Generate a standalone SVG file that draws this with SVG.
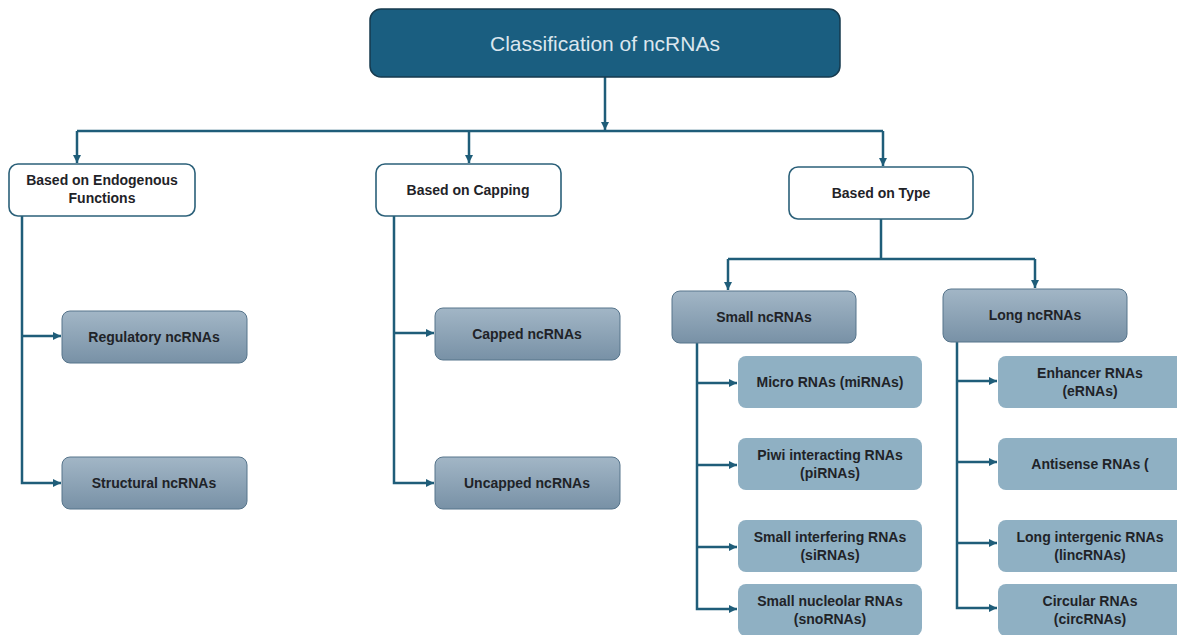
<svg xmlns="http://www.w3.org/2000/svg" width="1177" height="635" viewBox="0 0 1177 635">
<style>
.t{font-family:"Liberation Sans",Arial,sans-serif;font-weight:bold;font-size:14px;fill:#1f2328;text-anchor:middle}
.title{font-family:"Liberation Sans",Arial,sans-serif;font-size:21px;fill:#dbe6ee;text-anchor:middle}
.w{fill:#ffffff;stroke:#2b6079;stroke-width:1.6}
.g{fill:url(#grad);stroke:#56748b;stroke-width:1}
.l{fill:#8fb0c3}
.c{fill:none;stroke:#1f5d79;stroke-width:2.5}
</style>
<defs>
<linearGradient id="grad" x1="0" y1="0" x2="0" y2="1">
<stop offset="0" stop-color="#a2b6c6"/>
<stop offset="1" stop-color="#7891a6"/>
</linearGradient>
<marker id="ah" viewBox="0 0 10 10" refX="10" refY="5" markerWidth="8" markerHeight="8" markerUnits="userSpaceOnUse" orient="auto">
<path d="M0,0 L10,5 L0,10 z" fill="#1f5d79"/>
</marker>
</defs>
<g id="connectors">
<path class="c" d="M605,77 V130" marker-end="url(#ah)"/>
<path class="c" d="M77,131 H883"/>
<path class="c" d="M77,131 V163" marker-end="url(#ah)"/>
<path class="c" d="M469,131 V163" marker-end="url(#ah)"/>
<path class="c" d="M883,131 V166" marker-end="url(#ah)"/>
<path class="c" d="M22,216 V483 H61" marker-end="url(#ah)"/>
<path class="c" d="M22,336 H61" marker-end="url(#ah)"/>
<path class="c" d="M394,216 V483 H434" marker-end="url(#ah)"/>
<path class="c" d="M394,333 H434" marker-end="url(#ah)"/>
<path class="c" d="M881,219 V259"/>
<path class="c" d="M728,259 H1035"/>
<path class="c" d="M728,259 V290" marker-end="url(#ah)"/>
<path class="c" d="M1035,259 V288" marker-end="url(#ah)"/>
<path class="c" d="M697,343 V609 H737" marker-end="url(#ah)"/>
<path class="c" d="M697,383 H737" marker-end="url(#ah)"/>
<path class="c" d="M697,465 H737" marker-end="url(#ah)"/>
<path class="c" d="M697,547 H737" marker-end="url(#ah)"/>
<path class="c" d="M957,342 V608 H997" marker-end="url(#ah)"/>
<path class="c" d="M957,381 H997" marker-end="url(#ah)"/>
<path class="c" d="M957,462 H997" marker-end="url(#ah)"/>
<path class="c" d="M957,543 H997" marker-end="url(#ah)"/>
</g>
<g id="root">
<rect x="370" y="9" width="470" height="68" rx="11" fill="#1a5e80" stroke="#163a4e" stroke-width="1.5"/>
<text class="title" x="605" y="51">Classification of ncRNAs</text>
</g>
<g id="endogenous">
<rect class="w" x="9" y="164" width="186" height="52" rx="9"/>
<text class="t" x="102" y="185">Based on Endogenous</text>
<text class="t" x="102" y="203">Functions</text>
</g>
<g id="capping">
<rect class="w" x="376" y="164" width="185" height="52" rx="9"/>
<text class="t" x="468" y="195">Based on Capping</text>
</g>
<g id="type">
<rect class="w" x="789" y="167" width="184" height="52" rx="9"/>
<text class="t" x="881" y="198">Based on Type</text>
</g>
<g id="regulatory">
<rect class="g" x="62" y="311" width="185" height="52" rx="8"/>
<text class="t" x="154" y="342">Regulatory ncRNAs</text>
</g>
<g id="structural">
<rect class="g" x="62" y="457" width="185" height="52" rx="8"/>
<text class="t" x="154" y="488">Structural ncRNAs</text>
</g>
<g id="capped">
<rect class="g" x="435" y="308" width="185" height="52" rx="8"/>
<text class="t" x="527" y="339">Capped ncRNAs</text>
</g>
<g id="uncapped">
<rect class="g" x="435" y="457" width="185" height="52" rx="8"/>
<text class="t" x="527" y="488">Uncapped ncRNAs</text>
</g>
<g id="small">
<rect class="g" x="672" y="291" width="184" height="52" rx="8"/>
<text class="t" x="764" y="322">Small ncRNAs</text>
</g>
<g id="long">
<rect class="g" x="943" y="289" width="184" height="53" rx="8"/>
<text class="t" x="1035" y="320">Long ncRNAs</text>
</g>
<g id="mirna">
<rect class="l" x="738" y="356" width="184" height="52" rx="8"/>
<text class="t" x="830" y="387">Micro RNAs (miRNAs)</text>
</g>
<g id="pirna">
<rect class="l" x="738" y="438" width="184" height="52" rx="8"/>
<text class="t" x="830" y="460">Piwi interacting RNAs</text>
<text class="t" x="830" y="478">(piRNAs)</text>
</g>
<g id="sirna">
<rect class="l" x="738" y="520" width="184" height="52" rx="8"/>
<text class="t" x="830" y="542">Small interfering RNAs</text>
<text class="t" x="830" y="560">(siRNAs)</text>
</g>
<g id="snorna">
<rect class="l" x="738" y="584" width="184" height="52" rx="8"/>
<text class="t" x="830" y="606">Small nucleolar RNAs</text>
<text class="t" x="830" y="624">(snoRNAs)</text>
</g>
<g id="erna">
<rect class="l" x="998" y="356" width="186" height="52" rx="8"/>
<text class="t" x="1090" y="378">Enhancer RNAs</text>
<text class="t" x="1090" y="396">(eRNAs)</text>
</g>
<g id="antisense">
<rect class="l" x="998" y="438" width="186" height="52" rx="8"/>
<text class="t" x="1090" y="469">Antisense RNAs (</text>
</g>
<g id="lincrna">
<rect class="l" x="998" y="520" width="186" height="52" rx="8"/>
<text class="t" x="1090" y="542">Long intergenic RNAs</text>
<text class="t" x="1090" y="560">(lincRNAs)</text>
</g>
<g id="circrna">
<rect class="l" x="998" y="584" width="186" height="52" rx="8"/>
<text class="t" x="1090" y="606">Circular RNAs</text>
<text class="t" x="1090" y="624">(circRNAs)</text>
</g>
</svg>
